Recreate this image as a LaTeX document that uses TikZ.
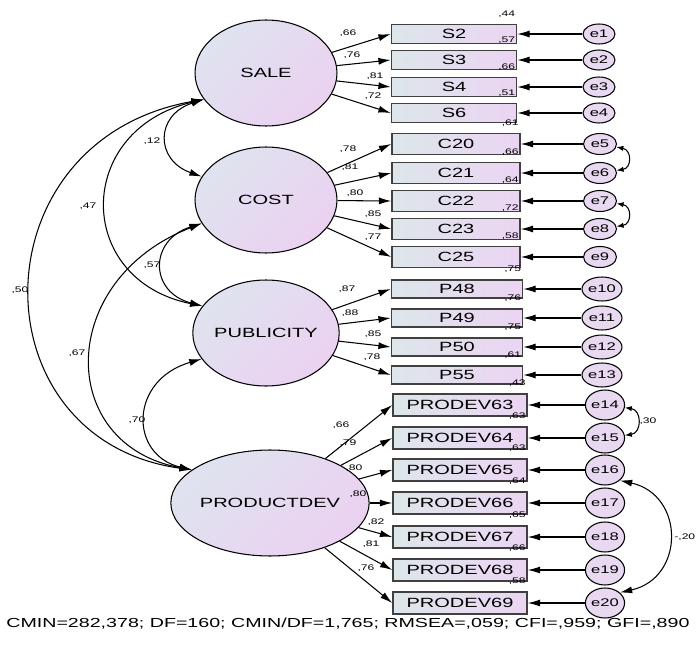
\documentclass[tikz,border=0pt]{standalone}
\usepackage{fontspec}
\setmainfont{Liberation Sans}[FakeStretch=1.5]
\usetikzlibrary{shapes.geometric,arrows.meta}

\definecolor{latA}{HTML}{DFE3EF}
\definecolor{latB}{HTML}{EBD1F1}
\definecolor{boxA}{HTML}{DDE6EA}
\definecolor{boxB}{HTML}{EBD5F3}
\definecolor{errfill}{HTML}{E8D8F0}
\definecolor{boxline}{HTML}{404040}

\newcommand\boxfont{\fontsize{7.6}{9}\selectfont}
\newcommand\fitfont{\fontsize{7.45}{9}\selectfont}
\newcommand\coeffont{\fontsize{4.6}{5.5}\selectfont}
\newcommand\errfont{\fontsize{6.3}{7.5}\selectfont}

\tikzset{
  latent/.style={ellipse,draw,line width=0.6pt,minimum width=2.84cm,minimum height=2.12cm,
    inner sep=0pt,left color=latA,right color=latB,shading angle=45,font=\boxfont},
  obs/.style={rectangle,draw=boxline,line width=0.9pt,inner sep=0pt,
    left color=boxA,right color=boxB,font=\boxfont},
  err/.style={ellipse,draw,line width=0.6pt,inner sep=0pt,fill=errfill,font=\errfont},
  load/.style={-{Latex[length=7pt,width=4pt]},line width=0.6pt},
  cov/.style={{Latex[length=7pt,width=4pt]}-{Latex[length=7pt,width=4pt]},line width=0.6pt},
  covs/.style={{Latex[length=4pt,width=3pt]}-{Latex[length=4pt,width=3pt]},line width=0.6pt},
  coef/.style={font=\coeffont,inner sep=0pt}
}

\begin{document}
\begin{tikzpicture}[x=0.02cm,y=-0.02cm]
\useasboundingbox (0,0) rectangle (698,646);

% latent variables
\node[latent] (sale) at (266,73) {SALE};
\node[latent] (cost) at (266,200) {COST};
\node[latent] (publicity) at (266,333) {PUBLICITY};
\node[latent] (productdev) at (270,503) {PRODUCTDEV};

% indicators of SALE
\foreach \n/\y/\i/\ld/\lx/\ly/\r in {
  S2/34/1/{,66}/348/33/{,44},
  S3/60/2/{,76}/352/55/{,57},
  S4/87/3/{,81}/375/76/{,66},
  S6/113/4/{,72}/373/96/{,51}}{
  \node[obs,minimum width=2.5cm,minimum height=0.38cm] (\n) at (454,\y) {\n};
  \node[err,minimum width=0.64cm,minimum height=0.4cm] (e\i) at (599,\y) {e\i};
  \draw[load] (sale) -- (\n.west);
  \draw[load] (e\i) -- (\n.east);
  \node[coef] (l\n) at (\lx,\ly) {\ld};
  \node[coef,anchor=south east] (r\n) at ([xshift=-1pt,yshift=3.5pt]\n.north east) {\r};
}

% indicators of COST
\foreach \n/\y/\i/\ld/\lx/\ly/\r in {
  C20/144/5/{,78}/348/149/{,61},
  C21/173/6/{,81}/350/167/{,66},
  C22/201/7/{,80}/355/193/{,64},
  C23/229/8/{,85}/373/214/{,72},
  C25/257/9/{,77}/373/237/{,58}}{
  \node[obs,minimum width=2.56cm,minimum height=0.42cm] (\n) at (456,\y) {\n};
  \node[err,minimum width=0.66cm,minimum height=0.42cm] (e\i) at (600,\y) {e\i};
  \draw[load] (cost) -- (\n.west);
  \draw[load] (e\i) -- (\n.east);
  \node[coef] (l\n) at (\lx,\ly) {\ld};
  \node[coef,anchor=south east] (r\n) at ([xshift=-1pt,yshift=3.5pt]\n.north east) {\r};
}

% indicators of PUBLICITY
\foreach \n/\y/\i/\ld/\lx/\ly/\r in {
  P48/289/10/{,87}/347/289/{,75},
  P49/318/11/{,88}/350/313/{,76},
  P50/347/12/{,85}/373/334/{,75},
  P55/375/13/{,78}/372/357/{,61}}{
  \node[obs,minimum width=2.62cm,minimum height=0.36cm] (\n) at (457,\y) {\n};
  \node[err,minimum width=0.8cm,minimum height=0.48cm] (e\i) at (602,\y) {e\i};
  \draw[load] (publicity) -- (\n.west);
  \draw[load] (e\i) -- (\n.east);
  \node[coef] (l\n) at (\lx,\ly) {\ld};
  \node[coef,anchor=south east] (r\n) at ([xshift=-1pt,yshift=3.5pt]\n.north east) {\r};
}

% indicators of PRODUCTDEV
\foreach \n/\y/\i/\ld/\lx/\ly/\r in {
  PRODEV63/405/14/{,66}/341/425/{,43},
  PRODEV64/438/15/{,79}/348/443/{,63},
  PRODEV65/470/16/{,80}/354/468/{,63},
  PRODEV66/503/17/{,80}/358/494/{,64},
  PRODEV67/537/18/{,82}/376/522/{,65},
  PRODEV68/570/19/{,81}/371/544/{,66},
  PRODEV69/603/20/{,76}/366/568/{,58}}{
  \node[obs,minimum width=2.68cm,minimum height=0.44cm] (\n) at (460,\y) {\n};
  \node[err,minimum width=0.64cm,minimum height=0.6cm] (e\i) at (605,\y) {e\i};
  \draw[load] (productdev) -- (\n.west);
  \draw[load] (e\i) -- (\n.east);
  \node[coef] (l\n) at (\lx,\ly) {\ld};
  \node[coef,anchor=south east] (r\n) at ([xshift=-1pt,yshift=3.5pt]\n.north east) {\r};
}

% covariances between the factors
\draw[cov] (sale.203) .. controls (155,115) and (155,160) .. (cost.160);
\node[coef] (c12) at (152,141) {,12};
\draw[cov] (sale.203) .. controls (74,130) and (74,280) .. (publicity.157);
\node[coef] (c47) at (88,206) {,47};
\draw[cov] (sale.203) .. controls (-25,140) and (-25,440) .. (productdev.157);
\node[coef] (c50) at (20,290) {,50};
\draw[cov] (cost.200) .. controls (149,240) and (149,292) .. (publicity.157);
\node[coef] (c57) at (152,265) {,57};
\draw[cov] (cost.200) .. controls (56,280) and (56,445) .. (productdev.157);
\node[coef] (c67) at (77,353) {,67};
\draw[cov] (publicity.202) .. controls (129,380) and (129,455) .. (productdev.157);
\node[coef] (c70) at (137,420) {,70};

% covariances between errors
\draw[covs] (e5) .. controls (632,150) and (632,168) .. (e6);
\draw[covs] (e7) .. controls (632,206) and (632,224) .. (e8);
\draw[covs] (e14) .. controls (642,410) and (642,433) .. (e15);
\node[coef] (c1415) at (648,421) {,30};
\draw[cov] (e16.-35) .. controls (685,495) and (685,578) .. (e20.35);
\node[coef,anchor=west] (c1620) at (674,537) {-,20};

% fit indices
\node[font=\fitfont,anchor=west,inner sep=0pt] (gof) at (6,624)
  {CMIN=282,378; DF=160; CMIN/DF=1,765; RMSEA=,059; CFI=,959; GFI=,890};
\end{tikzpicture}
\end{document}
